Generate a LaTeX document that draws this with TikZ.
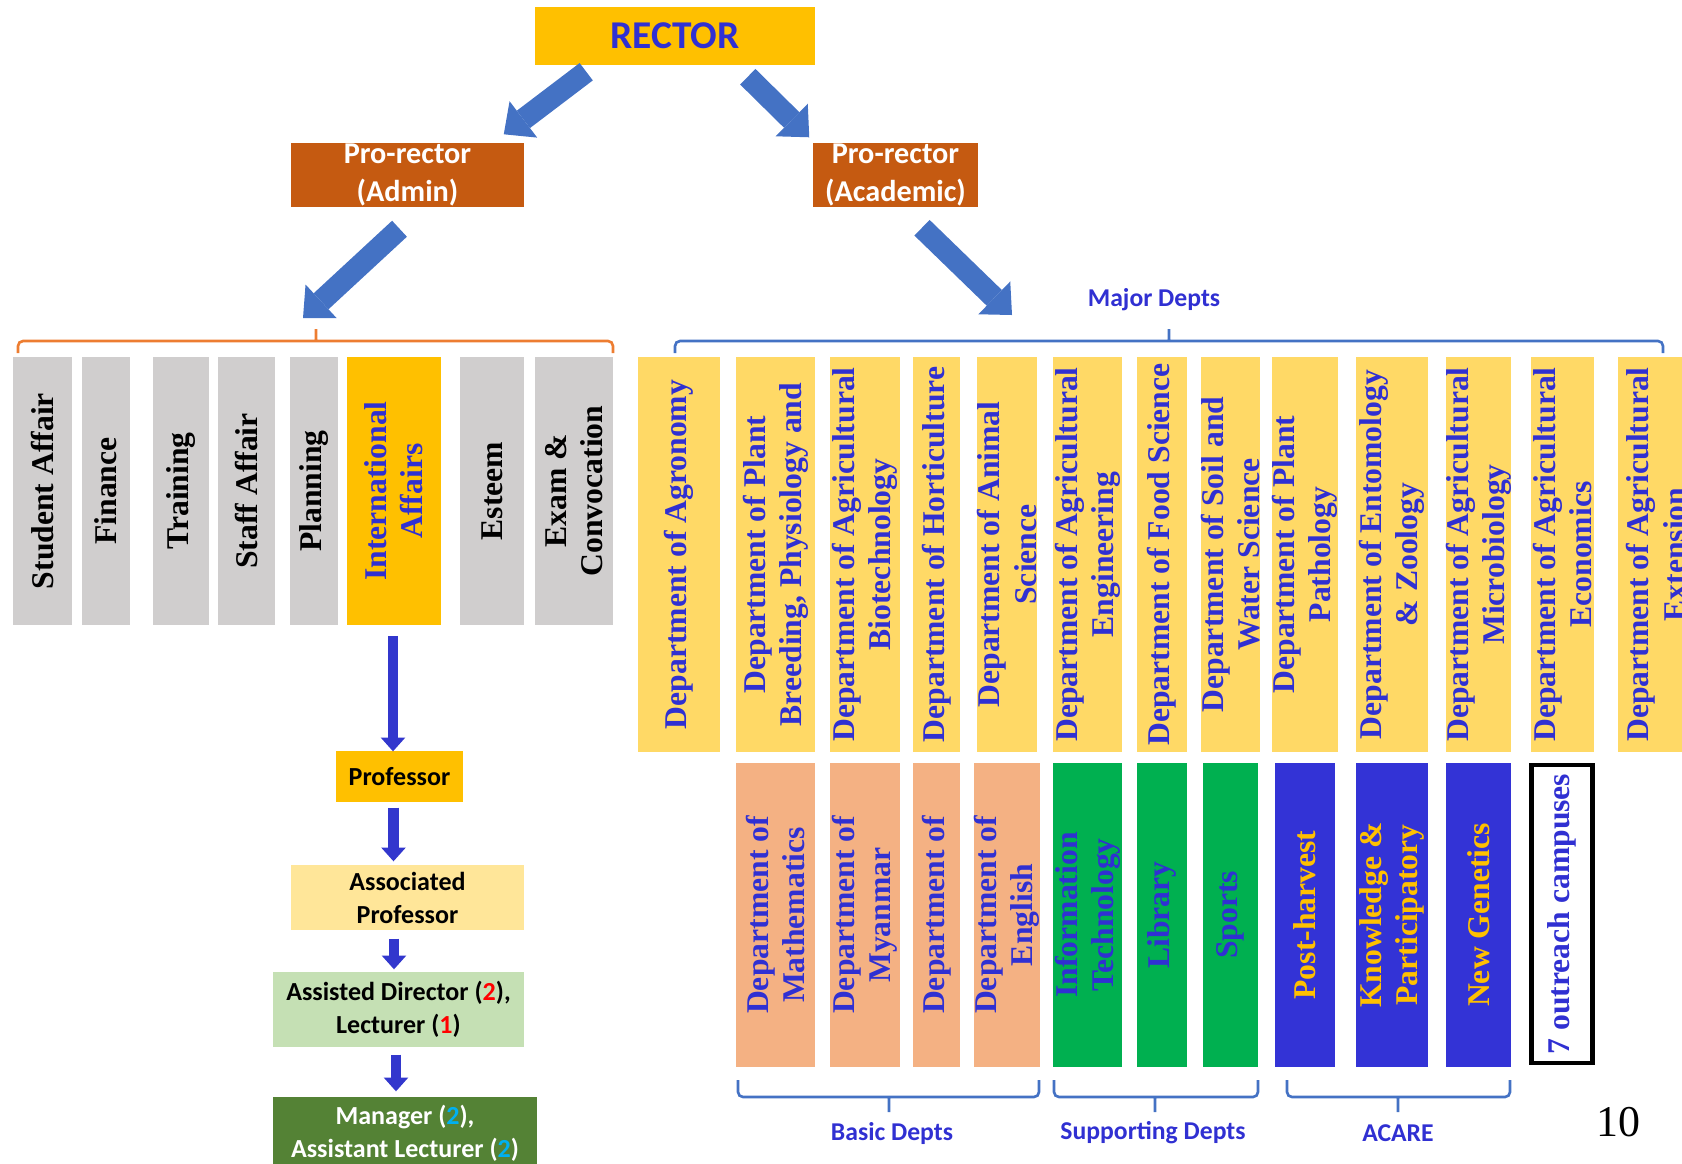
\documentclass[tikz,border=0pt]{standalone}
\usepackage{fontspec}
\setmainfont{Liberation Serif}
\newfontfamily\calibfont{Carlito}
\usetikzlibrary{arrows.meta,calc}
\definecolor{rectorfill}{HTML}{FFC000}
\definecolor{textblue}{RGB}{48,48,210}
\definecolor{profill}{HTML}{C55A11}
\definecolor{arrowblue}{HTML}{4472C4}
\definecolor{rankblue}{RGB}{50,55,205}
\definecolor{greyfill}{HTML}{D0CECE}
\definecolor{majorfill}{HTML}{FFD966}
\definecolor{basicfill}{HTML}{F4B183}
\definecolor{supfill}{HTML}{00B050}
\definecolor{acarefill}{RGB}{51,51,214}
\definecolor{assocfill}{HTML}{FFE699}
\definecolor{assistfill}{HTML}{C5E0B4}
\definecolor{managerfill}{HTML}{548235}
\definecolor{numcyan}{HTML}{00B0F0}
\definecolor{admorange}{HTML}{ED7D31}
\begin{document}
\begin{tikzpicture}[x=0.01cm, y=-0.01cm, inner sep=0mm,
		rectorstyle/.style={fill=rectorfill, text=textblue, minimum width=2.8cm, minimum height=0.58cm, font=\calibfont\bfseries\fontsize{11.2}{13}\selectfont},
		prostyle/.style={fill=profill, text=white, align=center, minimum height=0.64cm, font=\calibfont\bfseries\fontsize{8.6}{10.8}\selectfont},
		deptstyle/.style={rotate=90, align=center, text=textblue, font=\bfseries\fontsize{9}{10.3}\selectfont},
		rankstyle/.style={align=center, font=\calibfont\bfseries\fontsize{7.4}{9.4}\selectfont},
		labelstyle/.style={text=textblue, font=\calibfont\bfseries\fontsize{7.3}{9}\selectfont},
		bigarrow/.style={draw=arrowblue, line width=6.2pt, -{Triangle[width=13pt,length=7pt,line width=0pt]}},
		rankarrow/.style={draw=rankblue, line width=3.1pt, -{Triangle[width=7pt,length=3.9pt,line width=0pt]}},
		bracestyle/.style={line width=0.75pt, rounded corners=0.05cm}]
		\useasboundingbox (0,0) rectangle (1682,1163);
		\clip (0,0) rectangle (1682,1163);

		\node [rectorstyle] (rector) at (675,36) {RECTOR};
		\node [prostyle, minimum width=2.33cm] (admin) at (407.5,175) {Pro-rector\\(Admin)};
		\node [prostyle, minimum width=1.65cm] (academic) at (895.5,175) {Pro-rector\\(Academic)};

		\foreach \cx/\bw/\txt [count=\i] in {42.5/0.59/Student Affair, 106/0.48/Finance, 181/0.56/Training, 246.5/0.57/Staff Affair, 314/0.48/Planning}
			\node [deptstyle, fill=greyfill, text=black, minimum width=2.68cm, minimum height=\bw cm] (adm\i) at (\cx,491) {\txt};
		\node [deptstyle, fill=rectorfill, minimum width=2.68cm, minimum height=0.94cm] (ia) at (394,491) {International\\Affairs};
		\foreach \cx/\bw/\txt [count=\i from 6] in {492/0.64/Esteem, 574/0.78/{Exam \&\\Convocation}}
			\node [deptstyle, fill=greyfill, text=black, minimum width=2.68cm, minimum height=\bw cm] (adm\i) at (\cx,491) {\txt};

		\foreach \cx/\bw/\txt [count=\i] in {679/0.82/{Department of Agronomy}, 775.5/0.78/{Department of Plant\\Breeding, Physiology and},
				865/0.70/{Department of Agricultural\\Biotechnology}, 936.5/0.47/{Department of Horticulture},
				1007/0.60/{Department of Animal\\Science}, 1087.5/0.69/{Department of Agricultural\\Engineering},
				1162/0.50/{Department of Food Science}, 1230.5/0.55/{Department of Soil and\\Water Science},
				1305/0.60/{Department of Plant\\Pathology}, 1392/0.72/{Department of Entomology\\\& Zoology},
				1478.5/0.65/{Department of Agricultural\\Microbiology}, 1562.5/0.63/{Department of Agricultural\\Economics},
				1656/0.76/{Department of Agricultural\\Extension}}
			\node [deptstyle, fill=majorfill, minimum width=3.95cm, minimum height=\bw cm] (maj\i) at (\cx,554.5) {\txt};

		\foreach \cx/\bw/\col/\tcol/\txt [count=\i] in {775.5/0.78/basicfill/textblue/{Department of\\Mathematics},
				865/0.70/basicfill/textblue/{Department of\\Myanmar}, 936.5/0.47/basicfill/textblue/{Department of},
				1007/0.60/basicfill/textblue/{Department of\\English}, 1087.5/0.69/supfill/textblue/{Information\\Technology},
				1162/0.50/supfill/textblue/Library, 1230.5/0.55/supfill/textblue/Sports,
				1305/0.60/acarefill/rectorfill/Post-harvest, 1392/0.72/acarefill/rectorfill/{Knowledge \&\\Participatory},
				1478.5/0.65/acarefill/rectorfill/{New Genetics}}
			\node [deptstyle, fill=\col, text=\tcol, minimum width=3.04cm, minimum height=\bw cm] (sub\i) at (\cx,915) {\txt};
		\node [deptstyle, draw=black, line width=1.2pt, fill=white, minimum width=2.98cm, minimum height=0.61cm] (outreach) at (1562,914) {7 outreach campuses};

		\node [rankstyle, fill=rectorfill, minimum width=1.27cm, minimum height=0.51cm] (prof) at (399.5,776.5) {Professor};
		\node [rankstyle, fill=assocfill, minimum width=2.33cm, minimum height=0.65cm] (assoc) at (407.5,897.5) {Associated\\Professor};
		\node [rankstyle, fill=assistfill, minimum width=2.51cm, minimum height=0.75cm] (assisted) at (398.5,1009.5) {Assisted Director (\textcolor{red}{2}),\\Lecturer (\textcolor{red}{1})};
		\node [rankstyle, fill=managerfill, text=white, minimum width=2.64cm, minimum height=0.72cm] (manager) at (405,1133) {Manager (\textcolor{numcyan}{2}),\\Assistant Lecturer (\textcolor{numcyan}{2})};

		\coordinate (admintip) at (303,318);
		\coordinate (acadtip) at (1012,315);
		\draw [bigarrow] ($(rector.south west)+(52,6)$) -- ($(admin.north east)+(-21,-8)$);
		\draw [bigarrow] ($(rector.south east)+(-68,11)$) -- ($(academic.north west)+(-3,-5)$);
		\draw [bigarrow] ($(admin.south)+(-8,21)$) -- (admintip);
		\draw [bigarrow] ($(academic.south)+(26.5,20)$) -- (acadtip);

		\draw [rankarrow] ($(ia.west)+(-1,10)$) -- ($(prof.north)+(-6.5,1)$);
		\draw [rankarrow] ($(prof.south)+(-6,5)$) -- ($(assoc.north)+(-14,-3)$);
		\draw [rankarrow] ($(assoc.south)+(-13.5,8)$) -- ($(assisted.north)+(-4.5,-2)$);
		\draw [rankarrow] ($(assisted.south)+(-2.5,7)$) -- ($(manager.north)+(-9,-5)$);

		\draw [bracestyle, draw=admorange] (18,353) -- (18,341) -- (613,341) -- (613,353) (316,341) -- (316,329);
		\draw [bracestyle, draw=arrowblue] (675,353) -- (675,341) -- (1663,341) -- (1663,353) (1169,341) -- (1169,329);
		\draw [bracestyle, draw=arrowblue] (738,1080) -- (738,1097) -- (1039,1097) -- (1039,1080) (889,1097) -- (889,1112);
		\draw [bracestyle, draw=arrowblue] (1054,1080) -- (1054,1097) -- (1258,1097) -- (1258,1080) (1155,1097) -- (1155,1112);
		\draw [bracestyle, draw=arrowblue] (1287,1080) -- (1287,1097) -- (1510,1097) -- (1510,1080) (1398,1097) -- (1398,1112);

		\node [labelstyle] (majorlbl) at (1154,300) {Major Depts};
		\node [labelstyle] (basiclbl) at (892,1133) {Basic Depts};
		\node [labelstyle] (suplbl) at (1153,1133) {Supporting Depts};
		\node [labelstyle] (acarelbl) at (1398,1133) {ACARE};
		\node [font=\fontsize{12.5}{14}\selectfont] (pagenum) at (1618,1122) {10};
\end{tikzpicture}
\end{document}
